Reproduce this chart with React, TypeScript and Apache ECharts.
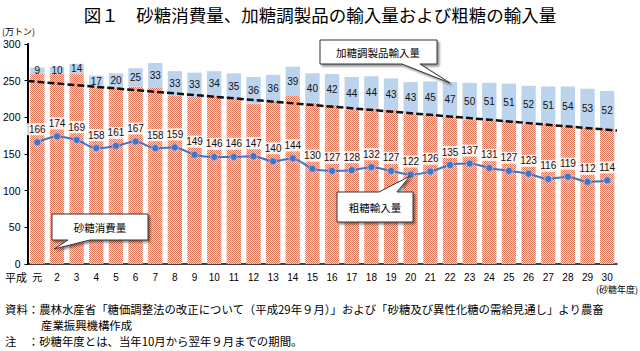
import React, { useEffect, useRef } from "react";
import * as echarts from "echarts";

const years = ["元", "2", "3", "4", "5", "6", "7", "8", "9", "10", "11", "12", "13", "14", "15", "16", "17", "18", "19", "20", "21", "22", "23", "24", "25", "26", "27", "28", "29", "30"];
const sugarConsumption = [259, 259, 259, 240, 240, 242, 241, 230, 228, 229, 225, 219, 222, 230, 220, 217, 211, 212, 210, 205, 204, 201, 197, 196, 195, 191, 191, 188, 186, 184];
const preparedImports = [9, 10, 14, 17, 20, 25, 33, 33, 33, 34, 35, 36, 36, 39, 40, 42, 44, 44, 43, 43, 45, 47, 50, 51, 51, 52, 51, 54, 53, 52];
const rawSugarImports = [166, 174, 169, 158, 161, 167, 158, 159, 149, 146, 146, 147, 140, 144, 130, 127, 128, 132, 127, 122, 126, 135, 137, 131, 127, 123, 116, 119, 112, 114];
const trendEnds = [249.5, 182];
const yTicks = { min: 0, max: 300, interval: 50 };

const FONT = "'Noto Sans CJK JP', sans-serif";
const NUMFONT = "'Liberation Sans', 'Noto Sans CJK JP', sans-serif";

export default function App() {
  const ref = useRef<HTMLDivElement>(null);
  useEffect(() => {
    document.body.style.margin = "0";
    if (!ref.current) return;
    const chart = echarts.init(ref.current, null, { renderer: "svg" });

    const c = document.createElement("canvas");
    c.width = 2;
    c.height = 2;
    const ctx = c.getContext("2d")!;
    ctx.fillStyle = "#FADCCF";
    ctx.fillRect(0, 0, 2, 2);
    ctx.fillStyle = "#DD7658";
    ctx.fillRect(0, 0, 1, 1);
    ctx.fillRect(1, 1, 1, 1);

    const calloutStyle = {
      fill: "#fff",
      stroke: "#333",
      lineWidth: 1,
      shadowBlur: 2,
      shadowOffsetX: 2,
      shadowOffsetY: 2,
      shadowColor: "rgba(0,0,0,0.45)",
    };

    const option: any = {
      animation: false,
      title: {
        text: "図１　砂糖消費量、加糖調製品の輸入量および粗糖の輸入量",
        left: "center",
        top: 1,
        textStyle: { fontSize: 17.5, fontWeight: "normal", color: "#000", fontFamily: FONT },
      },
      grid: { left: 26, right: 23, top: 44, bottom: 87 },
      xAxis: [
        {
          type: "category",
          data: years,
          axisLine: { onZero: false, lineStyle: { color: "#000", width: 1.5 } },
          axisTick: { show: false },
          axisLabel: { fontSize: 10, color: "#000", margin: 8, interval: 0, fontFamily: NUMFONT },
        },
        {
          type: "value",
          min: -0.5,
          max: 29.5,
          show: false,
          axisLine: { show: false, onZero: false },
          axisTick: { show: false },
          axisLabel: { show: false },
          splitLine: { show: false },
        },
      ],
      yAxis: {
        type: "value",
        min: yTicks.min,
        max: yTicks.max,
        interval: yTicks.interval,
        splitLine: { show: false },
        axisLine: { show: true, onZero: false, lineStyle: { color: "#000", width: 2 } },
        axisTick: { show: true, length: 3, lineStyle: { color: "#000" } },
        axisLabel: { fontSize: 10.5, color: "#000", margin: 7, fontFamily: NUMFONT },
      },
      series: [
        {
          name: "砂糖消費量",
          type: "bar",
          stack: "total",
          barCategoryGap: "27%",
          data: sugarConsumption,
          itemStyle: { color: { image: c, repeat: "repeat" } },
        },
        {
          name: "加糖調製品輸入量",
          type: "bar",
          stack: "total",
          data: preparedImports,
          itemStyle: { color: "#BCD3EE" },
          label: {
            show: true,
            position: "inside",
            fontSize: 10,
            color: "#111",
            fontFamily: NUMFONT,
          },
        },
        {
          name: "trend",
          type: "line",
          xAxisIndex: 1,
          data: [
            [-0.5, trendEnds[0]],
            [29.5, trendEnds[1]],
          ],
          symbol: "none",
          lineStyle: { color: "#111", width: 2.5, type: [7, 3] },
          z: 4,
        },
        {
          name: "粗糖輸入量",
          type: "line",
          data: rawSugarImports,
          smooth: 0.3,
          symbol: "circle",
          symbolSize: 7,
          itemStyle: { color: "#4472C4", borderColor: "#9DB3E0", borderWidth: 1 },
          lineStyle: { color: "#4472C4", width: 2 },
          z: 5,
          label: {
            show: true,
            position: "top",
            distance: 3,
            fontSize: 10,
            color: "#111",
            fontFamily: NUMFONT,
            backgroundColor: "rgba(255,255,255,0.85)",
            padding: [1, 2],
          },
        },
      ],
      graphic: [
        { type: "text", left: 2, top: 27, style: { text: "(万トン)", fill: "#000", font: `9px ${FONT}` } },
        { type: "text", left: 5, top: 271, style: { text: "平成", fill: "#000", font: `11px ${FONT}` } },
        { type: "text", right: 2, top: 285, style: { text: "(砂糖年度)", fill: "#000", font: `9px ${FONT}` } },
        { type: "text", left: 5, top: 303, style: { text: "資料：農林水産省「糖価調整法の改正について（平成29年９月）」および「砂糖及び異性化糖の需給見通し」より農畜", fill: "#000", font: `11.4px ${FONT}` } },
        { type: "text", left: 41, top: 319, style: { text: "産業振興機構作成", fill: "#000", font: `11.4px ${FONT}` } },
        { type: "text", left: 5, top: 335, style: { text: "注　：砂糖年度とは、当年10月から翌年９月までの期間。", fill: "#000", font: `11.4px ${FONT}` } },
        {
          type: "polygon",
          shape: { points: [[320, 40], [437, 40], [437, 64], [420, 64], [450, 83], [402, 64], [320, 64]] },
          style: calloutStyle,
          z: 10,
        },
        { type: "text", x: 378, y: 52, style: { text: "加糖調製品輸入量", fill: "#000", font: `10.5px ${FONT}`, align: "center", verticalAlign: "middle" }, z: 11 },
        {
          type: "polygon",
          shape: { points: [[52, 214], [148, 214], [148, 240], [90, 240], [54, 249], [68, 240], [52, 240]] },
          style: calloutStyle,
          z: 10,
        },
        { type: "text", x: 100, y: 227, style: { text: "砂糖消費量", fill: "#000", font: `10.5px ${FONT}`, align: "center", verticalAlign: "middle" }, z: 11 },
        {
          type: "polygon",
          shape: { points: [[337, 192], [379, 192], [410, 176], [397, 192], [413, 192], [413, 222], [337, 222]] },
          style: calloutStyle,
          z: 10,
        },
        { type: "text", x: 375, y: 207, style: { text: "粗糖輸入量", fill: "#000", font: `10.5px ${FONT}`, align: "center", verticalAlign: "middle" }, z: 11 },
      ],
    };
    chart.setOption(option);
    return () => chart.dispose();
  }, []);
  return <div ref={ref} style={{ width: 640, height: 351 }} />;
}
